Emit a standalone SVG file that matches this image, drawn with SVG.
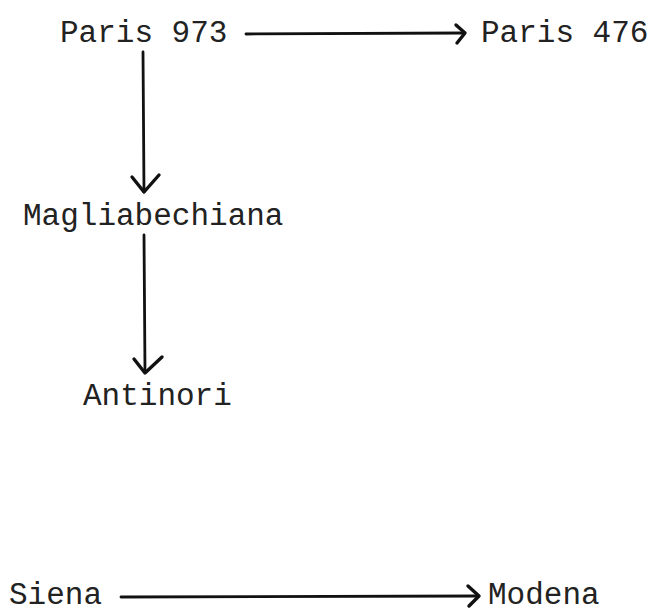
<svg xmlns="http://www.w3.org/2000/svg" width="656" height="610" viewBox="0 0 656 610">
  <style>
    .label { font-family: "Liberation Mono", "Courier New", monospace; font-size: 31px; fill: #222; }
    .edge { stroke: #111; stroke-width: 2.8; fill: none; stroke-linecap: round; }
    .head { stroke: #111; stroke-width: 3.4; fill: none; stroke-linecap: round; stroke-linejoin: round; }
  </style>
  <rect width="656" height="610" fill="#fff"/>

  <g id="paris973"><text class="label" x="60" y="42">Paris 973</text></g>
  <g id="paris476"><text class="label" x="481" y="42">Paris 476</text></g>
  <g id="magliabechiana"><text class="label" x="23" y="225">Magliabechiana</text></g>
  <g id="antinori"><text class="label" x="83" y="405">Antinori</text></g>
  <g id="siena"><text class="label" x="9" y="604">Siena</text></g>
  <g id="modena"><text class="label" x="488" y="604">Modena</text></g>

  <g id="connectors">
    <!-- Paris 973 to Paris 476 -->
    <line class="edge" x1="246" y1="34" x2="464" y2="33"/>
    <polyline class="head" points="456,25 465,33 457,43"/>
    <!-- Paris 973 to Magliabechiana -->
    <line class="edge" x1="143" y1="52" x2="144" y2="192"/>
    <polyline class="head" points="132,177 144,192 159,175"/>
    <!-- Magliabechiana to Antinori -->
    <line class="edge" x1="144" y1="235" x2="145" y2="372"/>
    <polyline class="head" points="134,359 145,373 162,357"/>
    <!-- Siena to Modena -->
    <line class="edge" x1="121" y1="597" x2="478" y2="596"/>
    <polyline class="head" points="468,586 479,596 469,606"/>
  </g>
</svg>
